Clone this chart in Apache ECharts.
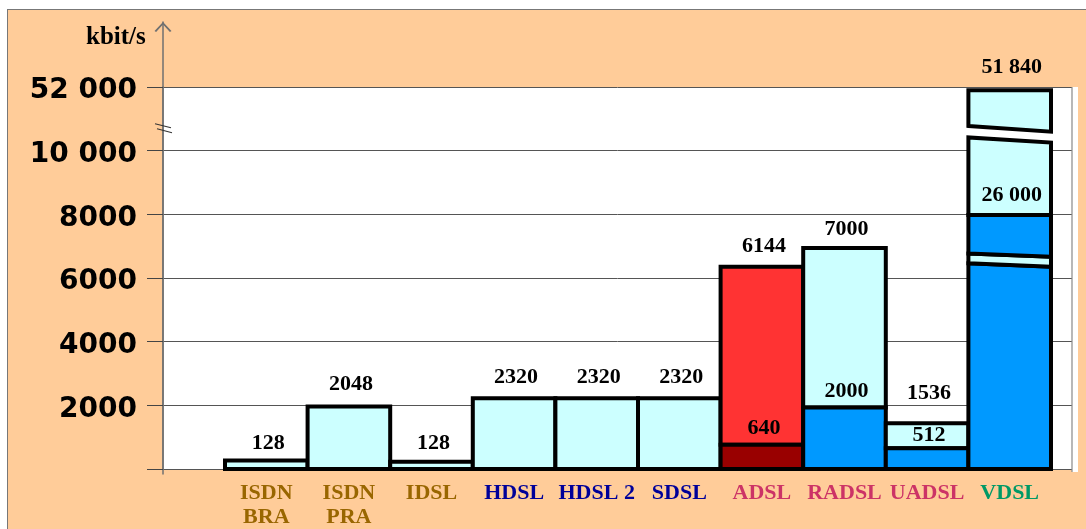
<!DOCTYPE html>
<html><head><meta charset="utf-8">
<script src="https://cdn.jsdelivr.net/npm/echarts@6/dist/echarts.min.js"></script>
<style>
html,body{margin:0;padding:0;background:#fff;overflow:hidden}
#frame{position:absolute;left:7px;top:9px;width:1100px;height:540px;background:#FFCC99;border-left:1.5px solid #777;border-top:1.5px solid #777}
#chart{position:absolute;left:0;top:0;width:1086px;height:529px}
</style></head><body>
<div id="frame"></div><div id="chart"></div>
<script>
// ---- data ----
const categories = ['ISDN\nBRA', 'ISDN\nPRA', 'IDSL', 'HDSL', 'HDSL 2', 'SDSL', 'ADSL', 'RADSL', 'UADSL', 'VDSL'];
const categoryGroup = ['isdn', 'isdn', 'isdn', 'hdsl', 'hdsl', 'hdsl', 'adsl', 'adsl', 'adsl', 'vdsl'];
// kbit/s values written on the bars
const topRate = [128, 2048, 128, 2320, 2320, 2320, 6144, 7000, 1536, 51840];
const innerRate = [null, null, null, null, null, null, 640, 2000, 512, 26000];
// Heights as drawn in units of the drawn (broken) axis,
// where the tick labelled "52 000" sits at 12000
const topDrawn = [270, 1960, 230, 2220, 2220, 2220, 6355, 6940, 1435, 11900];
const innerDrawn = [null, null, null, null, null, null, 765, 1935, 650, 7980];
// VDSL break gaps: drawn heights of the [left, right] ends of slanted edges
const vdslBlueGapBottom = [6460, 6355];
const vdslBlueGapTop = [6770, 6670];
const vdslCyanGapBottom = [10415, 10255];
const vdslCyanGapTop = [10775, 10595];
const axisBreakAt = 10720;
const yTicks = [0, 2000, 4000, 6000, 8000, 10000, 12000];
const yTickLabels = ['', '2000', '4000', '6000', '8000', '10 000', '52 000'];

// ---- styles ----
const fills = { cyan: '#CCFFFF', blue: '#0099FF', red: '#FF3333', darkred: '#990000' };
const topFill = ['cyan', 'cyan', 'cyan', 'cyan', 'cyan', 'cyan', 'red', 'cyan', 'cyan', 'cyan'];
const innerFill = [null, null, null, null, null, null, 'darkred', 'blue', 'blue', 'blue'];
const groupColor = { isdn: '#996600', hdsl: '#000099', adsl: '#CC3366', vdsl: '#009966' };
// pixel gap between a bar's top edge and its value label
const topLabelGap = [7, 12, 8, 11, 11, 11, 10, 9, 20, 13];
const innerLabelGap = [0, 0, 0, 0, 0, 0, 6, 6, 3, 10];
const brokenIndex = categories.indexOf('VDSL');
const valueFont = 'bold 22px "Liberation Serif", "Times New Roman", serif';

function fmt(v) {
  return v >= 10000 ? String(v).replace(/\B(?=(\d{3})+(?!\d))/g, ' ') : String(v);
}

function renderBars(params, api) {
  const i = params.dataIndex;
  const band = api.size([1, 0])[0];
  const cx = api.coord([i, 0])[0];
  const L = cx - band / 2, R = cx + band / 2;
  const Y = v => api.coord([i, v])[1];
  const children = [];
  const poly = (pts, fill) => children.push({
    type: 'polygon', shape: { points: pts },
    style: { fill: fill, stroke: '#000', lineWidth: 4, lineJoin: 'miter' }
  });
  const quad = (loL, loR, hiR, hiL, fill) =>
    poly([[L, Y(loL)], [R, Y(loR)], [R, Y(hiR)], [L, Y(hiL)]], fill);

  if (i === brokenIndex) {
    const inner = innerDrawn[i], top = topDrawn[i];
    quad(0, 0, vdslBlueGapBottom[1], vdslBlueGapBottom[0], fills[innerFill[i]]);
    quad(vdslBlueGapBottom[0], vdslBlueGapBottom[1], vdslBlueGapTop[1], vdslBlueGapTop[0], fills[topFill[i]]);
    quad(vdslBlueGapTop[0], vdslBlueGapTop[1], inner, inner, fills[innerFill[i]]);
    quad(inner, inner, vdslCyanGapBottom[1], vdslCyanGapBottom[0], fills[topFill[i]]);
    quad(vdslCyanGapTop[0], vdslCyanGapTop[1], top, top, fills[topFill[i]]);
  } else if (innerDrawn[i] != null) {
    quad(innerDrawn[i], innerDrawn[i], topDrawn[i], topDrawn[i], fills[topFill[i]]);
    quad(0, 0, innerDrawn[i], innerDrawn[i], fills[innerFill[i]]);
  } else {
    quad(0, 0, topDrawn[i], topDrawn[i], fills[topFill[i]]);
  }
  const label = (text, v, gap) => children.push({
    type: 'text',
    style: { text: text, x: cx + 2, y: Y(v) + 1 - gap, align: 'center', verticalAlign: 'bottom', font: valueFont, fill: '#000' }
  });
  label(fmt(topRate[i]), topDrawn[i], topLabelGap[i]);
  if (innerRate[i] != null) label(fmt(innerRate[i]), innerDrawn[i], innerLabelGap[i]);
  return { type: 'group', children: children };
}

const rich = {};
Object.keys(groupColor).forEach(k => {
  rich[k] = { color: groupColor[k], fontFamily: '"Liberation Serif", "Times New Roman", serif', fontWeight: 'bold', fontSize: 22, lineHeight: 24 };
});

const chart = echarts.init(document.getElementById('chart'), null, { renderer: 'canvas' });
chart.setOption({
  animation: false,
  backgroundColor: 'transparent',
  title: {
    text: 'kbit/s', left: 81, top: 20,
    textStyle: { fontFamily: '"Liberation Serif", "Times New Roman", serif', fontWeight: 'bold', fontSize: 25, color: '#000' }
  },
  grid: [
    { left: 163, right: 14, top: 87, bottom: 60, show: true, backgroundColor: '#fff', borderWidth: 0 },
    { left: 225, right: 35, top: 87, bottom: 60 },
    { left: 163, width: 10, top: 22, bottom: 55 }
  ],
  xAxis: [
    { gridIndex: 0, type: 'value', show: false, min: 0, max: 1 },
    {
      gridIndex: 1, type: 'category', data: categories,
      axisLine: { show: false }, axisTick: { show: false }, splitLine: { show: false },
      axisLabel: {
        interval: 0, margin: 12, rich: rich,
        formatter: (v, i) => v.split('\n').map(s => '{' + categoryGroup[i] + '|' + s + '}').join('\n')
      }
    },
    { gridIndex: 2, type: 'value', show: false, min: 0, max: 1 }
  ],
  yAxis: [
    {
      gridIndex: 0, type: 'value', min: 0, max: 12000, interval: 2000,
      axisLine: { show: true, lineStyle: { color: '#707070', width: 1.5 } },
      axisTick: { show: true, length: 16, lineStyle: { color: '#444', width: 1 } },
      splitLine: { show: true, lineStyle: { color: '#555', width: 1 } },
      axisLabel: {
        margin: 26,
        rich: { t: { color: '#000', fontFamily: '"DejaVu Sans", sans-serif', fontWeight: 'bold', fontSize: 28, padding: [8, 0, 0, 0] } },
        formatter: v => { const k = yTicks.indexOf(v); return k >= 0 && yTickLabels[k] ? '{t|' + yTickLabels[k] + '}' : ''; }
      }
    },
    { gridIndex: 1, type: 'value', min: 0, max: 12000, show: false },
    {
      gridIndex: 2, type: 'value', min: 0, max: 1,
      axisLine: {
        show: true,
        symbol: ['none', 'path://M0,9 L8.5,0 L17,9 L15.4,9.9 L8.5,2.4 L1.6,9.9 Z'],
        symbolSize: [17, 10], symbolOffset: [0, -5],
        lineStyle: { color: '#707070', width: 1.5 }
      },
      axisTick: { show: false }, axisLabel: { show: false }, splitLine: { show: false }
    }
  ],
  series: [{
    type: 'custom', xAxisIndex: 1, yAxisIndex: 1, clip: false, z: 5,
    data: categories.map((c, i) => [i, topDrawn[i]]),
    renderItem: renderBars
  }]
});

const by = chart.convertToPixel({ yAxisIndex: 0 }, axisBreakAt);
const bx = 163;
chart.setOption({
  graphic: [
    { type: 'rect', z: -1, shape: { x: 1072, y: 87, width: 6, height: 385 }, style: { fill: '#fff' } },
    { type: 'line', shape: { x1: 1072, y1: 87, x2: 1072, y2: 472 }, style: { stroke: '#888', lineWidth: 1.2 } },
    { type: 'line', z: 10, shape: { x1: bx - 8, y1: by - 4, x2: bx + 8, y2: by }, style: { stroke: '#333', lineWidth: 1.2 } },
    { type: 'line', z: 10, shape: { x1: bx - 6, y1: by + 1, x2: bx + 9, y2: by + 5 }, style: { stroke: '#333', lineWidth: 1.2 } }
  ]
});
</script>
</body></html>
